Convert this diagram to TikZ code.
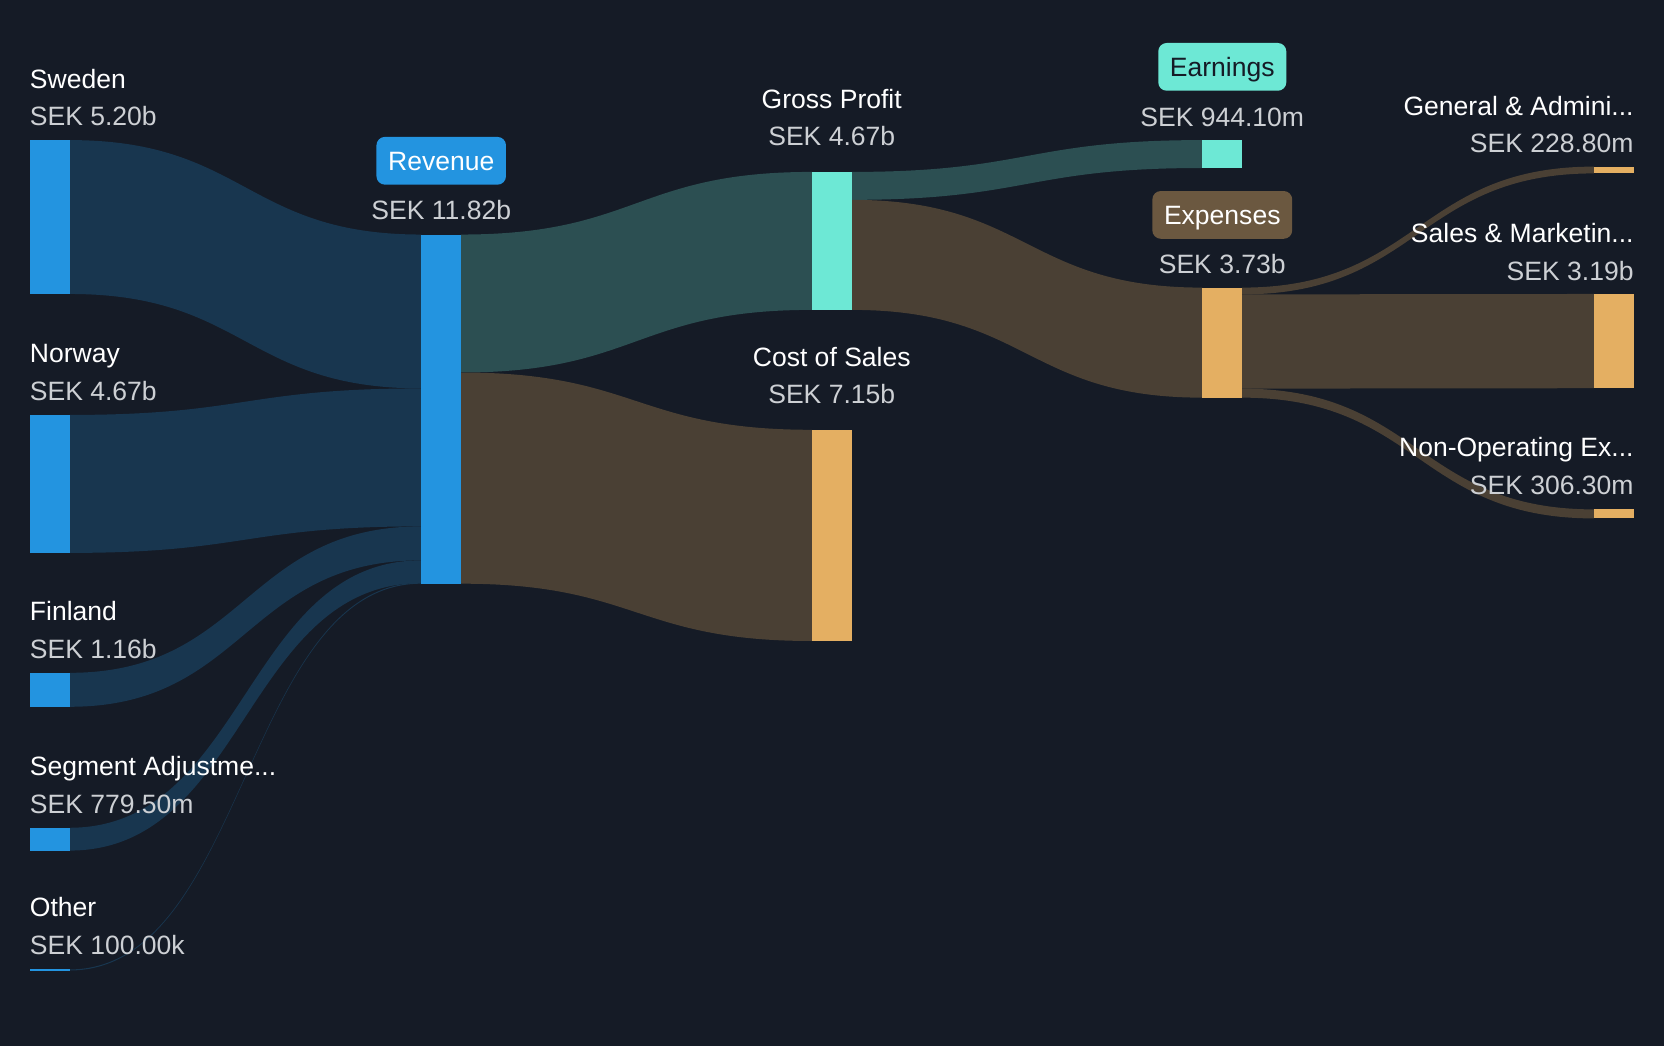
\documentclass[tikz,border=0pt]{standalone}
\usepackage{fontspec}
\setmainfont{Liberation Sans}
\usepackage{tikz}
\usetikzlibrary{calc,backgrounds,positioning}

\definecolor{bg}{HTML}{151B26}
\definecolor{revblue}{HTML}{2394E0}
\definecolor{revlink}{HTML}{18364F}
\definecolor{gpteal}{HTML}{6DE8D5}
\definecolor{gplink}{HTML}{2C4F52}
\definecolor{costorange}{HTML}{E4AF62}
\definecolor{costlink}{HTML}{4A4034}
\definecolor{expbox}{HTML}{6B5840}
\definecolor{valgrey}{HTML}{CDD0D4}

\tikzset{
  bar/.style={fill=#1, draw=none, minimum width=37.5pt, inner sep=0pt, outer sep=0pt, anchor=north west},
  lbl/.style={text=white, font=\fontsize{25}{30}\selectfont, inner sep=0pt},
  amount/.style={text=valgrey, font=\fontsize{25}{30}\selectfont, inner sep=0pt},
  badge/.style={fill=#1, rounded corners=8pt, minimum height=45pt, inner xsep=11pt, inner ysep=0pt,
    text height=18pt, text depth=0pt, text=white, font=\fontsize{25}{30}\selectfont},
}

% band from (#2 + #3 down) to (#4 + #5 down), #6 thick
\newcommand\flow[6]{%
  \fill[#1] ($(#2)+(0,#3)$) .. controls +(165.75,0) and +(-165.75,0) .. ($(#4)+(0,#5)$)
    -- ++(0,#6) .. controls +(-165.75,0) and +(165.75,0) .. ($(#2)+(0,#3+#6)$) -- cycle;}

\begin{document}
\begin{tikzpicture}[x=1pt, y=-1pt]

  \useasboundingbox (0,0) rectangle (1568,986);

  % bars
  \node[bar=revblue, minimum height=145pt] (sweden) at (28,132) {};
  \node[bar=revblue, minimum height=130pt] (norway) at (28,391) {};
  \node[bar=revblue, minimum height=32pt] (finland) at (28,634) {};
  \node[bar=revblue, minimum height=21.5pt] (segment) at (28,780) {};
  \node[bar=revblue, minimum height=2pt] (other) at (28,913) {};
  \node[bar=revblue, minimum height=329pt] (revenue) at (397,221) {};
  \node[bar=gpteal, minimum height=130pt] (gross) at (765,162) {};
  \node[bar=costorange, minimum height=199pt] (cost) at (765,405) {};
  \node[bar=gpteal, minimum height=26.3pt] (earnings) at (1133,132) {};
  \node[bar=costorange, minimum height=103.7pt] (expenses) at (1133,271) {};
  \node[bar=costorange, minimum height=6.4pt] (genadmin) at (1502,157) {};
  \node[bar=costorange, minimum height=88.8pt] (salesmkt) at (1502,277) {};
  \node[bar=costorange, minimum height=8.5pt] (nonop) at (1502,480) {};

  % left column
  \node[amount, anchor=base west] (swedenval) at ($(sweden.north west)+(0,-13.5)$) {SEK 5.20b};
  \node[lbl, anchor=base west] (swedenlbl) at ($(swedenval.base west)+(0,-35.5)$) {Sweden};
  \node[amount, anchor=base west] (norwayval) at ($(norway.north west)+(0,-13.5)$) {SEK 4.67b};
  \node[lbl, anchor=base west] (norwaylbl) at ($(norwayval.base west)+(0,-35.5)$) {Norway};
  \node[amount, anchor=base west] (finlandval) at ($(finland.north west)+(0,-13.5)$) {SEK 1.16b};
  \node[lbl, anchor=base west] (finlandlbl) at ($(finlandval.base west)+(0,-35.5)$) {Finland};
  \node[amount, anchor=base west] (segmentval) at ($(segment.north west)+(0,-13.5)$) {SEK 779.50m};
  \node[lbl, anchor=base west] (segmentlbl) at ($(segmentval.base west)+(0,-35.5)$) {Segment Adjustme...};
  \node[amount, anchor=base west] (otherval) at ($(other.north west)+(0,-13.5)$) {SEK 100.00k};
  \node[lbl, anchor=base west] (otherlbl) at ($(otherval.base west)+(0,-35.5)$) {Other};

  % middle columns
  \node[amount, anchor=base] (revenueval) at ($(revenue.north)+(0,-14)$) {SEK 11.82b};
  \node[badge=revblue] (revenuelbl) at ($(revenue.north)+(0,-69.5)$) {Revenue};
  \node[amount, anchor=base] (grossval) at ($(gross.north)+(0,-24.5)$) {SEK 4.67b};
  \node[lbl, anchor=base] (grosslbl) at ($(grossval.base)+(0,-35.5)$) {Gross Profit};
  \node[amount, anchor=base] (costval) at ($(cost.north)+(0,-24.5)$) {SEK 7.15b};
  \node[lbl, anchor=base] (costlbl) at ($(costval.base)+(0,-35.5)$) {Cost of Sales};
  \node[amount, anchor=base] (earningsval) at ($(earnings.north)+(0,-13)$) {SEK 944.10m};
  \node[badge=gpteal, text=bg] (earningslbl) at ($(earnings.north)+(0,-69)$) {Earnings};
  \node[amount, anchor=base] (expensesval) at ($(expenses.north)+(0,-13)$) {SEK 3.73b};
  \node[badge=expbox] (expenseslbl) at ($(expenses.north)+(0,-68.5)$) {Expenses};

  % right column
  \node[amount, anchor=base east] (genadminval) at ($(genadmin.north east)+(0,-13)$) {SEK 228.80m};
  \node[lbl, anchor=base east] (genadminlbl) at ($(genadminval.base east)+(0,-35.5)$) {General \& Admini...};
  \node[amount, anchor=base east] (salesmktval) at ($(salesmkt.north east)+(0,-13)$) {SEK 3.19b};
  \node[lbl, anchor=base east] (salesmktlbl) at ($(salesmktval.base east)+(0,-35.5)$) {Sales \& Marketin...};
  \node[amount, anchor=base east] (nonopval) at ($(nonop.north east)+(0,-14)$) {SEK 306.30m};
  \node[lbl, anchor=base east] (nonoplbl) at ($(nonopval.base east)+(0,-35.5)$) {Non-Operating Ex...};

  \begin{pgfonlayer}{background}
    \fill[bg] (0,0) rectangle (1568,986);

    \flow{revlink}{sweden.north east}{0}{revenue.north west}{0}{145}
    \flow{revlink}{norway.north east}{0}{revenue.north west}{145}{130}
    \flow{revlink}{finland.north east}{0}{revenue.north west}{275}{32}
    \flow{revlink}{segment.north east}{0}{revenue.north west}{307}{21.5}
    \flow{revlink}{other.north east}{0.5}{revenue.north west}{328}{1}

    \flow{gplink}{revenue.north east}{0}{gross.north west}{0}{130} %% revenue->gross
    \flow{costlink}{revenue.north east}{130}{cost.north west}{0}{199} %% revenue->cost

    \flow{gplink}{gross.north east}{0}{earnings.north west}{0}{26.3}
    \flow{costlink}{gross.north east}{26.3}{expenses.north west}{0}{103.7}

    \flow{costlink}{expenses.north east}{0}{genadmin.north west}{0}{6.4}
    \flow{costlink}{expenses.north east}{6.4}{salesmkt.north west}{0}{88.8}
    \flow{costlink}{expenses.north east}{95.2}{nonop.north west}{0}{8.5}
  \end{pgfonlayer}
\end{tikzpicture}
\end{document}
